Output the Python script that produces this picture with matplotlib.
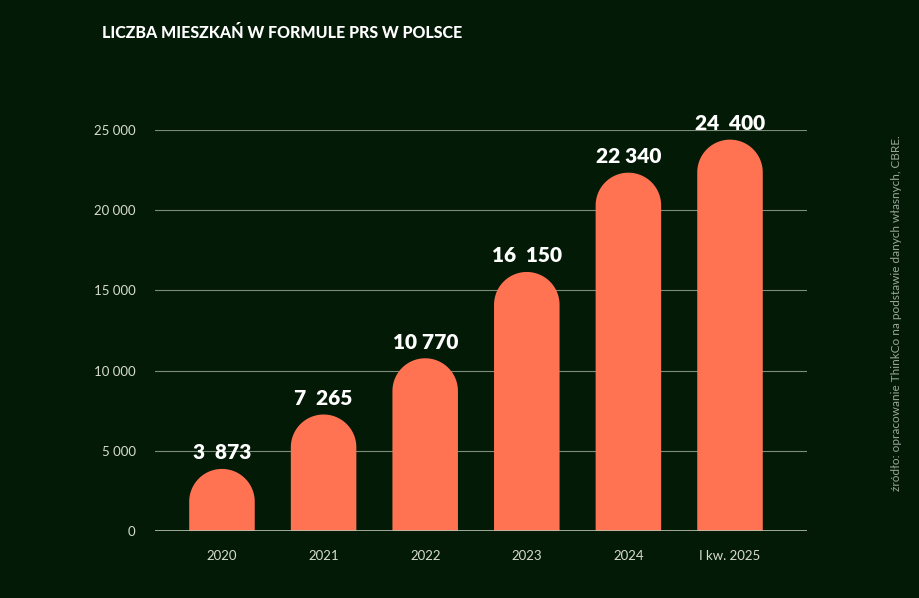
import numpy as np
import matplotlib
matplotlib.use('Agg')
import matplotlib.pyplot as plt
from matplotlib.patches import Polygon

# dane
lata = ['2020', '2021', '2022', '2023', '2024', 'I kw. 2025']
mieszkania = [3873, 7265, 10770, 16150, 22340, 24400]
etykiety = ['3  873', '7  265', '10 770', '16  150', '22 340', '24  400']
yticks = [0, 5000, 10000, 15000, 20000, 25000]
ytick_labels = ['0', '5 000', '10 000', '15 000', '20 000', '25 000']

tlo = '#031a06'
kolor_slupka = '#ff7352'

fig = plt.figure(figsize=(9.2, 5.98), dpi=100, facecolor=tlo)
ax = fig.add_axes([0.1685, 0.112, 0.7087, 0.6706])
ax.set_facecolor(tlo)

ax.set_xlim(-0.659, 5.758)
ax.set_ylim(0, 25000)

szer = 0.645
hw = szer / 2
# promien zaokraglenia w jednostkach osi y (polowa szerokosci w pikselach)
bbox = ax.get_window_extent()
px_x = bbox.width / (5.758 + 0.659)
px_y = bbox.height / 25000
ry = hw * px_x / px_y

t = np.linspace(0, np.pi, 60)
for i, v in enumerate(mieszkania):
    arc = np.column_stack([i + hw * np.cos(t), (v - ry) + ry * np.sin(t)])
    pts = np.vstack([[i - hw, 0], [i + hw, 0], arc])
    ax.add_patch(Polygon(pts, closed=True, facecolor=kolor_slupka,
                         edgecolor='none', zorder=3, clip_on=False))
    ax.text(i, v + 1000, etykiety[i], ha='center', va='center',
            color='white', fontsize=15, fontweight='heavy',
            family=['Lato', 'DejaVu Sans'], zorder=4)

ax.set_yticks(yticks)
ax.set_yticklabels(ytick_labels)
ax.set_xticks(range(len(lata)))
ax.set_xticklabels(lata)
ax.grid(axis='y', color='#7d8c7a', linewidth=0.8, zorder=1)
ax.axhline(0, color='#b8c0b0', linewidth=1.2, zorder=5)
ax.tick_params(axis='both', length=0, colors='#d8dcd0', labelsize=9.5)
ax.tick_params(axis='y', pad=14)
ax.tick_params(axis='x', pad=14)
for lab in ax.get_xticklabels() + ax.get_yticklabels():
    lab.set_family(['Lato', 'DejaVu Sans'])
for s in ax.spines.values():
    s.set_visible(False)

fig.text(0.111, 0.945, 'LICZBA MIESZKAŃ W FORMULE PRS W POLSCE',
         color='white', fontsize=11.5, fontweight='black', ha='left', va='center',
         family=['Lato', 'DejaVu Sans'])

fig.text(0.974, 0.477, 'źródło: opracowanie ThinkCo na podstawie danych własnych, CBRE.',
         color='#9aa59a', fontsize=8.5, rotation=90, ha='center', va='center',
         family=['Lato', 'DejaVu Sans'])

fig.savefig('out.png', dpi=100, facecolor=tlo)
